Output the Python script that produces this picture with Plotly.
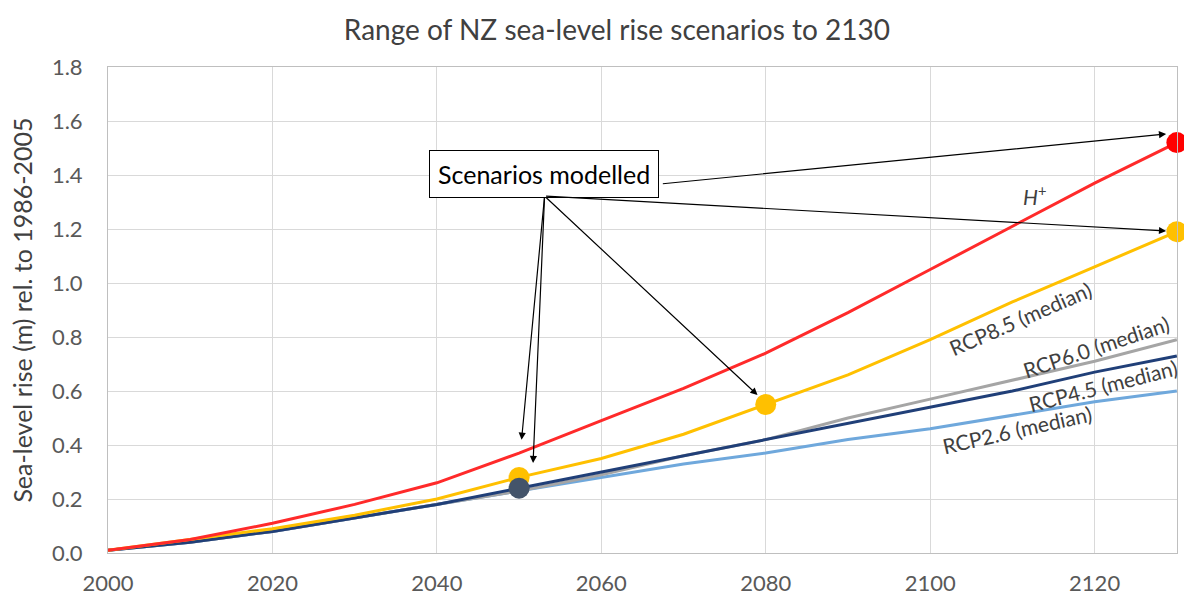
import plotly.graph_objects as go

years = [2000, 2010, 2020, 2030, 2040, 2050, 2060, 2070, 2080, 2090, 2100, 2110, 2120, 2130]
h_plus = [0.01, 0.05, 0.11, 0.18, 0.26, 0.37, 0.49, 0.61, 0.74, 0.89, 1.05, 1.21, 1.37, 1.52]
rcp85 = [0.01, 0.05, 0.09, 0.14, 0.20, 0.28, 0.35, 0.44, 0.55, 0.66, 0.79, 0.93, 1.06, 1.19]
rcp60 = [0.01, 0.04, 0.08, 0.13, 0.18, 0.23, 0.29, 0.36, 0.42, 0.50, 0.57, 0.64, 0.71, 0.79]
rcp45 = [0.01, 0.04, 0.08, 0.13, 0.18, 0.24, 0.30, 0.36, 0.42, 0.48, 0.54, 0.60, 0.67, 0.73]
rcp26 = [0.01, 0.04, 0.08, 0.13, 0.18, 0.23, 0.28, 0.33, 0.37, 0.42, 0.46, 0.51, 0.56, 0.60]

# modelled scenario points
red_pts_x = [2130]
red_pts_y = [1.52]
yellow_pts_x = [2050, 2080, 2130]
yellow_pts_y = [0.28, 0.55, 1.19]
navy_pts_x = [2050]
navy_pts_y = [0.24]

x_ticks = [2000, 2020, 2040, 2060, 2080, 2100, 2120]
y_ticks = [0.0, 0.2, 0.4, 0.6, 0.8, 1.0, 1.2, 1.4, 1.6, 1.8]

FONT = "Lato"
TXT = "#404040"

fig = go.Figure()
series = [
    (rcp26, "#6FA8DC", "RCP2.6"),
    (rcp60, "#A5A5A5", "RCP6.0"),
    (rcp45, "#203F78", "RCP4.5"),
    (rcp85, "#FFC000", "RCP8.5"),
    (h_plus, "#FF2A2A", "H+"),
]
for vals, col, name in series:
    fig.add_trace(go.Scatter(x=years, y=vals, mode="lines", name=name,
                             line=dict(color=col, width=3), showlegend=False))

fig.add_trace(go.Scatter(x=yellow_pts_x, y=yellow_pts_y, mode="markers",
                         marker=dict(color="#FFC000", size=21), showlegend=False, cliponaxis=False))
fig.add_trace(go.Scatter(x=navy_pts_x, y=navy_pts_y, mode="markers",
                         marker=dict(color="#44546A", size=21), showlegend=False, cliponaxis=False))
fig.add_trace(go.Scatter(x=red_pts_x, y=red_pts_y, mode="markers",
                         marker=dict(color="#FF0000", size=21), showlegend=False, cliponaxis=False))

annotations = []
# label box
annotations.append(dict(x=2053.0, y=1.404, xref="x", yref="y", text="Scenarios modelled",
                        showarrow=False, font=dict(family=FONT, size=25, color="black"),
                        bordercolor="black", borderwidth=1, borderpad=8, bgcolor="white"))

# arrows: (tip_x, tip_y, tail_x, tail_y)
arrows = [
    (2128.7, 1.552, 2067.3, 1.367),
    (2128.7, 1.193, 2053.1, 1.322),
    (2079.0, 0.585, 2053.1, 1.322),
    (2050.3, 0.419, 2053.1, 1.322),
    (2051.7, 0.333, 2053.1, 1.322),
]
for tx, ty, ax, ay in arrows:
    annotations.append(dict(x=tx, y=ty, ax=ax, ay=ay, xref="x", yref="y", axref="x", ayref="y",
                            text="", showarrow=True, arrowhead=2, arrowsize=1.2, arrowwidth=1.2,
                            arrowcolor="black", standoff=0))

labels = [
    ("<i>H</i><sup>+</sup>", 2112.7, 1.326, 0),
    ("RCP8.5 (median)", 2110.9, 0.870, -23.5),
    ("RCP6.0 (median)", 2120.2, 0.763, -18.4),
    ("RCP4.5 (median)", 2121.0, 0.619, -14.3),
    ("RCP2.6 (median)", 2110.5, 0.456, -12.7),
]
for t, x, y, ang in labels:
    annotations.append(dict(x=x, y=y, xref="x", yref="y", text=t, showarrow=False,
                            textangle=ang, font=dict(family=FONT, size=21, color=TXT)))

fig.update_layout(
    width=1184, height=599, autosize=False,
    margin=dict(l=108, r=7, t=67, b=46),
    paper_bgcolor="white", plot_bgcolor="white",
    title=dict(text="Range of NZ sea-level rise scenarios to 2130", x=0.521, xanchor="center",
               y=0.95, yanchor="middle", font=dict(family=FONT, size=28, color=TXT)),
    annotations=annotations,
    font=dict(family=FONT, color="#595959"),
)
fig.update_xaxes(range=[2000, 2130.02], tickvals=x_ticks, showgrid=True, gridcolor="#D9D9D9",
                 gridwidth=1, showline=True, linecolor="#BFBFBF", linewidth=1, mirror=True,
                 zeroline=False, ticks="", ticklabelstandoff=11, automargin=False,
                 tickfont=dict(family=FONT, size=22, color="#595959"))
fig.update_yaxes(range=[0, 1.8], tickvals=y_ticks, tickformat=".1f", showgrid=True,
                 gridcolor="#D9D9D9", gridwidth=1, showline=True, linecolor="#BFBFBF",
                 linewidth=1, mirror=True, zeroline=False, ticks="", ticklabelstandoff=20,
                 automargin=False,
                 tickfont=dict(family=FONT, size=22, color="#595959"),
                 title=dict(text="Sea-level rise (m) rel. to 1986-2005", standoff=12,
                            font=dict(family=FONT, size=25, color=TXT)))

fig.write_html("out.html", config={"displayModeBar": False},
               post_script="document.body.style.margin='0';document.body.style.overflow='hidden';")
